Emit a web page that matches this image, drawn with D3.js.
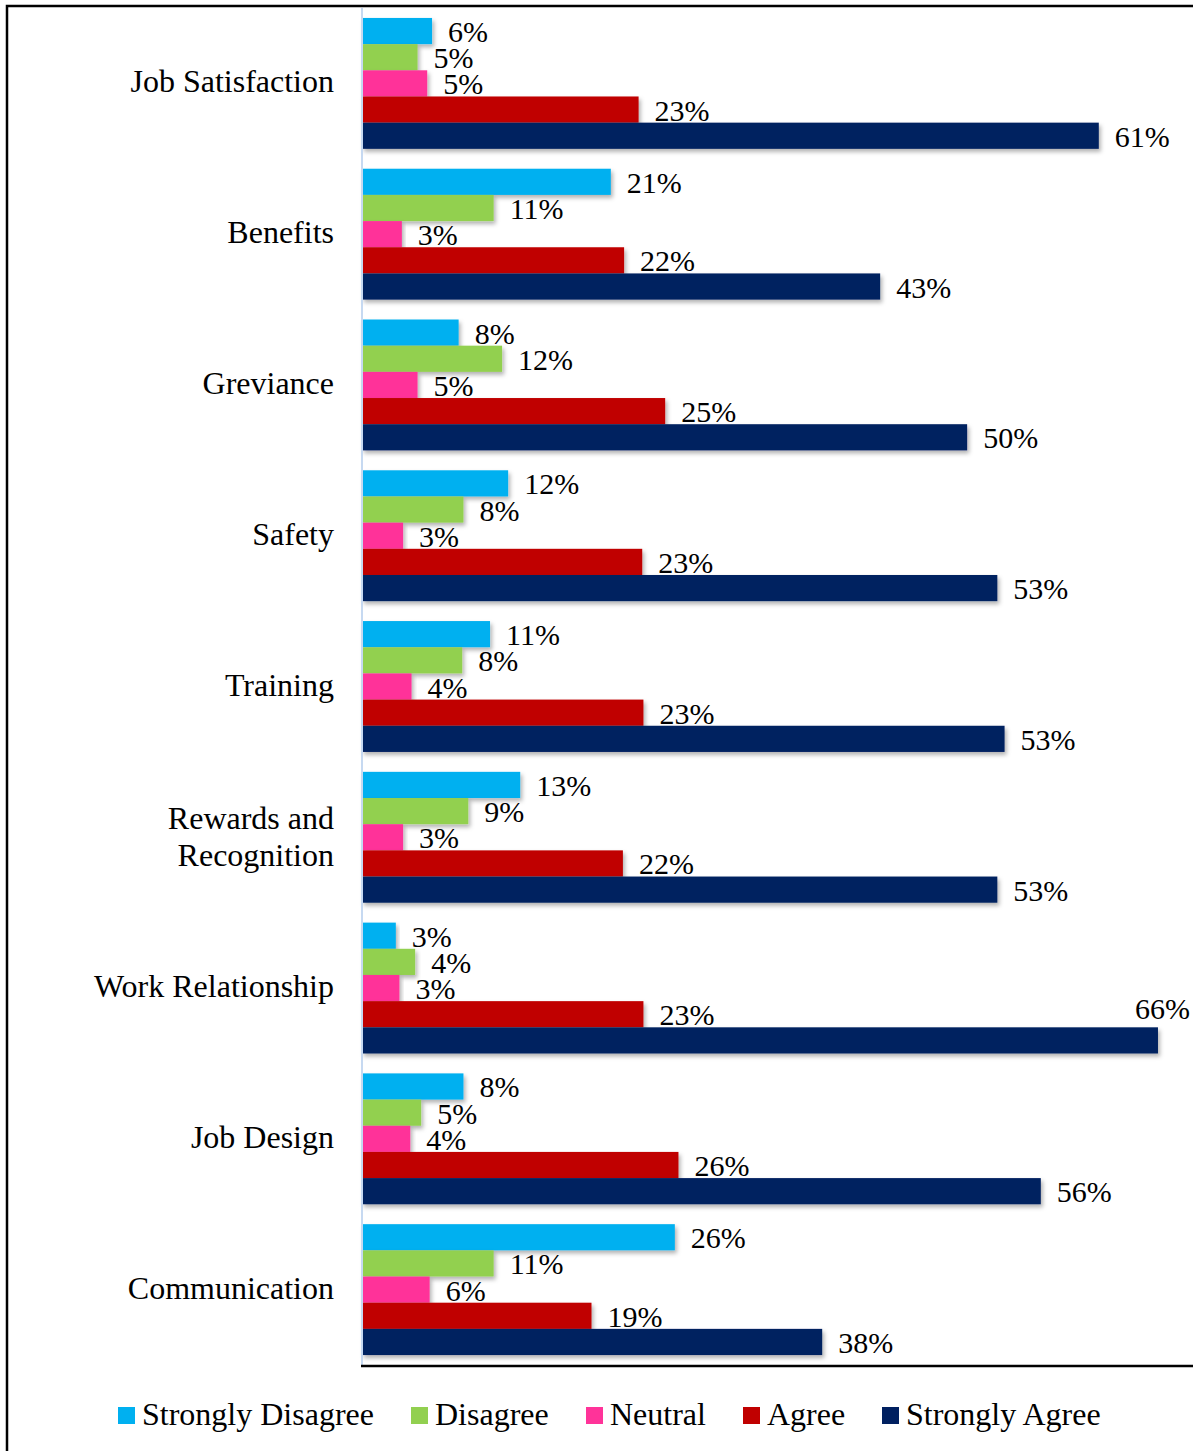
<!DOCTYPE html>
<html><head><meta charset="utf-8">
<script src="https://cdn.jsdelivr.net/npm/d3@7"></script>
<style>body{margin:0;background:#fff}svg{display:block}</style>
</head><body>
<script>
const categories = ["Job Satisfaction","Benefits","Greviance","Safety","Training","Rewards and Recognition","Work Relationship","Job Design","Communication"];
const seriesNames = ["Strongly Disagree","Disagree","Neutral","Agree","Strongly Agree"];
const seriesColors = ["#00B0F0","#92D050","#FF3399","#C00000","#002060"];
const stronglyDisagree = [5.8,20.6,8.0,12.1,10.6,13.1,2.8,8.4,25.9];
const disagree        = [4.6,10.9,11.6,8.4,8.3,8.8,4.4,4.9,10.9];
const neutral         = [5.4,3.3,4.6,3.4,4.1,3.4,3.1,4.0,5.6];
const agree           = [22.9,21.7,25.1,23.2,23.3,21.6,23.3,26.2,19.0];
const stronglyAgree   = [61.0,42.9,50.1,52.6,53.2,52.6,65.9,56.2,38.1];
const seriesValues = [stronglyDisagree,disagree,neutral,agree,stronglyAgree];

const W=1193,H=1451;
const pLeft=362,pRight=1193,pTop=8,pBottom=1365;
const svg=d3.select("body").append("svg").attr("width",W).attr("height",H);
const defs=svg.append("defs");
const f=defs.append("filter").attr("id","sh").attr("x","-5%").attr("y","-20%").attr("width","115%").attr("height","160%");
f.append("feDropShadow").attr("dx",2).attr("dy",3).attr("stdDeviation",2).attr("flood-color","#000").attr("flood-opacity",0.3);

svg.append("rect").attr("x",7).attr("y",6).attr("width",1250).attr("height",1500).attr("fill","none").attr("stroke","#000").attr("stroke-width",2.5);

const x=d3.scaleLinear().domain([0,68.8]).range([pLeft,pRight]);
const y0=d3.scaleBand().domain(categories).range([pTop,pBottom]).paddingInner(0.132).paddingOuter(0.066);
const y1=d3.scaleBand().domain(seriesNames).range([0,y0.bandwidth()]);
const font="'Liberation Serif','Times New Roman',serif";

const data=[];
categories.forEach((c,i)=>seriesNames.forEach((s,j)=>data.push({c,s,j,v:seriesValues[j][i]})));

const g=svg.append("g");
g.selectAll("rect.bar").data(data).join("rect").attr("class","bar")
 .attr("x",x(0)).attr("y",d=>y0(d.c)+y1(d.s)).attr("width",d=>x(d.v)-x(0)).attr("height",y1.bandwidth())
 .attr("fill",d=>seriesColors[d.j]).attr("filter","url(#sh)");

g.selectAll("text.lbl").data(data).join("text").attr("class","lbl")
 .style("font-family",font).style("font-size","30px").attr("fill","#000")
 .each(function(d){
   const t=d3.select(this);
   const txt=Math.round(d.v)+"%";
   const xe=x(d.v)+16;
   const yc=y0(d.c)+y1(d.s)+y1.bandwidth()/2;
   t.text(txt);
   if(xe+56>pRight){
     t.attr("x",pRight-3).attr("y",y0(d.c)+y1(d.s)-8).attr("text-anchor","end");
   } else {
     t.attr("x",xe).attr("y",yc+11);
   }
 });

// axes
svg.append("line").attr("x1",pLeft).attr("x2",pLeft).attr("y1",pTop).attr("y2",pBottom).attr("stroke","#c6d9f1").attr("stroke-width",2);
svg.append("line").attr("x1",pLeft-1).attr("x2",pRight).attr("y1",pBottom+1).attr("y2",pBottom+1).attr("stroke","#000").attr("stroke-width",2.5);

// category labels
svg.selectAll("text.cat").data(categories).join("text").attr("class","cat")
 .style("font-family",font).style("font-size","32px").attr("text-anchor","end").attr("fill","#000")
 .each(function(c){
   const t=d3.select(this);
   const yc=y0(c)+y0.bandwidth()/2;
   if(c==="Rewards and Recognition"){
     t.append("tspan").attr("x",334).attr("y",yc-8).text("Rewards and");
     t.append("tspan").attr("x",334).attr("y",yc+29).text("Recognition");
   } else {
     t.attr("x",334).attr("y",yc+9).text(c);
   }
 });

// legend
const legX=[118,411,586,743,882];
const lg=svg.selectAll("g.leg").data(seriesNames).join("g").attr("class","leg").attr("transform",(d,i)=>`translate(${legX[i]},1407)`);
lg.append("rect").attr("width",17).attr("height",17).attr("fill",(d,i)=>seriesColors[i]);
lg.append("text").attr("x",24).attr("y",18).style("font-family",font).style("font-size","32px").text(d=>d);
</script>
</body></html>
